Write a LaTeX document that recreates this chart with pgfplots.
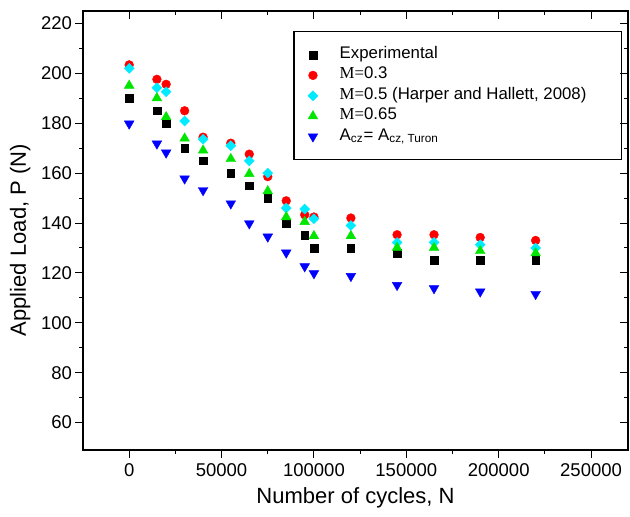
\documentclass[border=0pt]{standalone}
\usepackage{fontspec}
\setmainfont{Liberation Sans}
\newfontfamily\timesfont{Liberation Serif}
\usepackage{pgfplots}
\pgfplotsset{compat=1.18}

\definecolor{mred}{RGB}{255,0,0}
\definecolor{mcyan}{RGB}{0,235,255}
\definecolor{mgreen}{RGB}{0,230,0}
\definecolor{mblue}{RGB}{0,0,255}

\pgfplotsset{
  cycbox/.style={
    scale only axis, width=272.5pt, height=219.5pt,
    xmin=-25000, xmax=270000, ymin=49, ymax=225,
    xtick={0,50000,100000,150000,200000,250000},
    ytick={60,80,100,120,140,160,180,200,220},
    minor x tick num=1, minor y tick num=1,
    major tick length=4pt, minor tick length=2pt,
    scaled ticks=false,
    axis line style={line width=0.6pt},
    every tick/.style={line width=0.5pt, black},
  }
}

\begin{document}
\begin{tikzpicture}
\useasboundingbox (-41.5pt,-33.5pt) rectangle (273.5pt,225pt);
\begin{axis}[cycbox,
  tick align=outside, xtick pos=left, ytick pos=left,
  /pgf/number format/fixed,
  /pgf/number format/precision=0,
  /pgf/number format/1000 sep={},
  /pgf/number format/assume math mode=true,
  tick label style={font=\fontsize{9.25}{11}\selectfont},
  xticklabel style={inner ysep=2.5pt},
  yticklabel style={inner xsep=1.3pt},
  xlabel={Number of cycles, N},
  ylabel={Applied Load, P (N)},
  label style={font=\fontsize{11}{13}\selectfont},
  xlabel style={at={([yshift=-27pt]axis description cs:0.5,0)}, anchor=base},
  ylabel style={at={([xshift=-28.5pt]axis description cs:0,0.478)}, anchor=base},
  legend cell align=left,
  legend image code/.code={%
    \path (0pt,0pt) (19.8pt,0pt);
    \draw[#1, only marks] plot coordinates {(8.7pt,0pt)};},
  legend style={at={(0.989,0.954)}, anchor=north east,
    font=\fontsize{8.4}{10}\selectfont, draw=black, line width=0.6pt,
    inner xsep=0.5pt, inner ysep=6.5pt, row sep=0pt,
    nodes={text height=5.7pt, text depth=2.1pt, inner ysep=1.2pt}},
]
\addplot[only marks, mark=square*, mark size=1.9pt, color=black, mark options={line width=0.2pt}]
  coordinates {(0,190) (15000,185) (20000,180) (30000,170) (40000,165) (55000,160)
  (65000,155) (75000,150) (85000,140) (95000,135) (100000,130) (120000,130)
  (145000,128) (165000,125) (190000,125) (220000,125)};
\addlegendentry{Experimental}
\addplot[only marks, mark=*, mark size=2.2pt, color=mred, mark options={line width=0.2pt}]
  coordinates {(0,203.4) (15000,197.6) (20000,195.6) (30000,185.0) (40000,174.4) (55000,172.0)
  (65000,167.6) (75000,158.6) (85000,148.9) (95000,143.3) (100000,142.4) (120000,142.0)
  (145000,135.3) (165000,135.3) (190000,134.2) (220000,133.0)};
\addlegendentry{{\timesfont M=}0.3}
\addplot[only marks, mark=diamond*, mark size=2.5pt, color=mcyan, mark options={line width=0.2pt, xscale=1.33}]
  coordinates {(0,202.0) (15000,194.2) (20000,192.6) (30000,180.9) (40000,173.6) (55000,171.0)
  (65000,164.9) (75000,160.0) (85000,146.0) (95000,145.6) (100000,141.7) (120000,139.0)
  (145000,132.2) (165000,132.2) (190000,131.3) (220000,130.0)};
\addlegendentry{{\timesfont M=}0.5 (Harper and Hallett, 2008)\hspace*{15pt}}
\addplot[only marks, mark=triangle*, mark size=2.8pt, color=mgreen, mark options={line width=0.2pt}]
  coordinates {(0,195.1) (15000,190.1) (20000,182.5) (30000,173.9) (40000,169.1) (55000,165.7)
  (65000,159.7) (75000,152.8) (85000,142.4) (95000,140.5) (100000,134.8) (120000,134.8)
  (145000,130.1) (165000,130.1) (190000,128.8) (220000,127.9)};
\addlegendentry{{\timesfont M=}0.65}
\addplot[only marks, mark=triangle*, mark size=2.8pt, color=mblue, mark options={line width=0.2pt, rotate=180}]
  coordinates {(0,179.8) (15000,171.8) (20000,168.2) (30000,157.8) (40000,153.1) (55000,147.8)
  (65000,139.8) (75000,134.5) (85000,128.1) (95000,122.6) (100000,119.8) (120000,118.7)
  (145000,115.1) (165000,113.8) (190000,112.5) (220000,111.5)};
\addlegendentry{A\textsubscript{cz}= A\textsubscript{cz, Turon}}
\end{axis}
\begin{axis}[cycbox,
  tick align=inside, xtick pos=right, ytick pos=right,
  xticklabels={}, yticklabels={},
]
\end{axis}
\end{tikzpicture}
\end{document}
